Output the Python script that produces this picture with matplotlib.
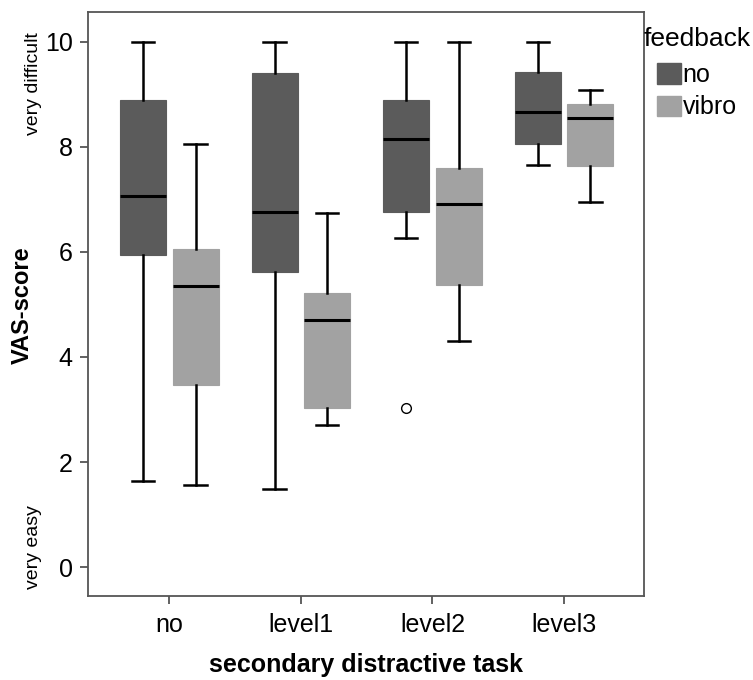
import matplotlib
matplotlib.use("Agg")
import matplotlib.pyplot as plt
from matplotlib.patches import Patch

plt.rcParams['font.family'] = ['Liberation Sans', 'DejaVu Sans']

categories = ['no', 'level1', 'level2', 'level3']
series_names = ['no', 'vibro']
legend_title = 'feedback'

# feedback = no
no_whislo = [1.63, 1.48, 6.27, 7.65]
no_q1 = [5.94, 5.62, 6.76, 8.06]
no_med = [7.06, 6.75, 8.14, 8.67]
no_q3 = [8.89, 9.40, 8.90, 9.42]
no_whishi = [10.0, 10.0, 10.0, 10.0]
no_fliers = [[], [], [3.02], []]

# feedback = vibro
vib_whislo = [1.57, 2.70, 4.30, 6.95]
vib_q1 = [3.46, 3.03, 5.37, 7.64]
vib_med = [5.35, 4.71, 6.91, 8.55]
vib_q3 = [6.05, 5.21, 7.60, 8.81]
vib_whishi = [8.06, 6.74, 10.0, 9.08]
vib_fliers = [[], [], [], []]

yticks = [0, 2, 4, 6, 8, 10]

dark = '#5b5b5b'
light = '#a2a2a2'

fig = plt.figure(figsize=(7.53, 6.8), dpi=100)
ax = fig.add_axes([88/753, 1 - 596/680, (644-88)/753, (596-12)/680])

def stats(wl, q1, med, q3, wh, fl):
    return [dict(whislo=a, q1=b, med=c, q3=d, whishi=e, fliers=f)
            for a, b, c, d, e, f in zip(wl, q1, med, q3, wh, fl)]

offset = 0.2
width = 0.35
for st, col, off in [
    (stats(no_whislo, no_q1, no_med, no_q3, no_whishi, no_fliers), dark, -offset),
    (stats(vib_whislo, vib_q1, vib_med, vib_q3, vib_whishi, vib_fliers), light, offset),
]:
    pos = [i + off for i in range(len(categories))]
    ax.bxp(st, positions=pos, widths=width, patch_artist=True, showfliers=True,
           boxprops=dict(facecolor=col, edgecolor=col, linewidth=0.8),
           medianprops=dict(color='black', linewidth=2.2),
           whiskerprops=dict(color='black', linewidth=1.8),
           capprops=dict(color='black', linewidth=1.8),
           capwidths=0.17,
           flierprops=dict(marker='o', markersize=7, markerfacecolor='white',
                           markeredgecolor='black', markeredgewidth=1.0))

ax.set_xlim(-0.618, 3.608)
ax.set_ylim(-0.55, 10.566)
ax.set_xticks(range(len(categories)))
ax.set_xticklabels(categories, fontsize=18)
ax.set_yticks(yticks)
ax.set_yticklabels([str(t) for t in yticks], fontsize=18)
for s in ax.spines.values():
    s.set_color('#555555')
    s.set_linewidth(1.3)
ax.tick_params(axis='both', length=6, width=1.3, color='#555555', direction='out')
ax.tick_params(axis='x', pad=6)
ax.tick_params(axis='y', pad=5)

ax.set_xlabel('secondary distractive task', fontsize=18, fontweight='bold', labelpad=12)
fig.text(22/753, 1 - 305/680, 'VAS-score', rotation=90, fontsize=17, fontweight='bold',
         ha='center', va='center')
fig.text(33/753, 1 - 84/680, 'very difficult', rotation=90, fontsize=14,
         ha='center', va='center')
fig.text(33/753, 1 - 547/680, 'very easy', rotation=90, fontsize=14,
         ha='center', va='center')

fig.text(644/753, 1 - 27/680, legend_title, fontsize=19, ha='left', va='top')
handles = [Patch(facecolor=dark, edgecolor=dark), Patch(facecolor=light, edgecolor=light)]
leg = fig.legend(handles, series_names, loc='upper left',
                 bbox_to_anchor=(657/753, 1 - 63/680), frameon=False, fontsize=18,
                 handlelength=0.95, handleheight=0.9,
                 handletextpad=0.08, labelspacing=0.34, borderaxespad=0,
                 borderpad=0)

fig.savefig('out.png', dpi=100)
